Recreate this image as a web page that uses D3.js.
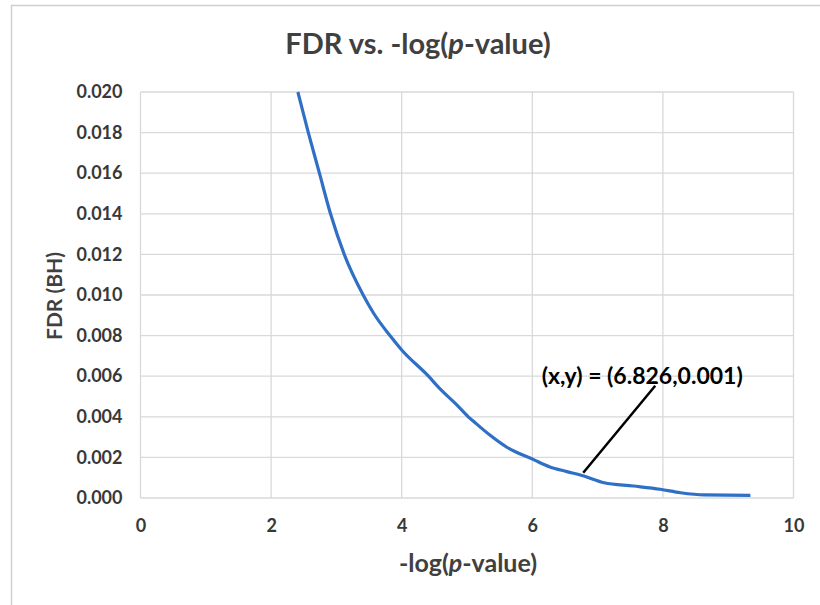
<!DOCTYPE html>
<meta charset="utf-8">
<style>
  body { margin: 0; background: #fff; }
  text { font-family: Lato, "Open Sans", sans-serif; }
</style>
<body>
<script src="https://d3js.org/d3.v7.min.js"></script>
<script>

// data
var xTicks = [0, 2, 4, 6, 8, 10];
var yTicks = [0, 0.002, 0.004, 0.006, 0.008, 0.010, 0.012, 0.014, 0.016, 0.018, 0.020];
var logP = [2.41, 2.57, 2.74, 2.91, 3.12, 3.41, 3.57, 3.82, 4.0, 4.41, 4.58, 4.84, 5.02, 5.12, 5.35, 5.61, 6.02, 6.27, 6.53, 6.79, 7.10, 7.55, 7.96, 8.27, 8.63, 9.34];
var fdr  = [0.020, 0.018, 0.016, 0.014, 0.012, 0.010, 0.0091, 0.008, 0.00729, 0.006, 0.0054, 0.0046, 0.0040, 0.00372, 0.0031, 0.0025, 0.00189, 0.00153, 0.0013, 0.00108, 0.00075, 0.00059, 0.00043, 0.00026, 0.00015, 0.00013];
var annotPoint = [6.826, 0.001];
var annotText = "(x,y) = (6.826,0.001)";

var W = 820, H = 605;
var margin = {top: 92, right: 26.5, bottom: 107, left: 140.5};
var width = W - margin.left - margin.right,
    height = H - margin.top - margin.bottom;

var svg = d3.select("body").append("svg")
  .attr("width", W)
  .attr("height", H);

// chart frame
svg.append("rect")
  .attr("x", 11.5).attr("y", 5.5)
  .attr("width", 830).attr("height", 620)
  .attr("fill", "none")
  .attr("stroke", "#d0d0d0")
  .attr("stroke-width", 1.5);

var g = svg.append("g")
  .attr("transform", "translate(" + margin.left + "," + margin.top + ")");

var x = d3.scaleLinear().domain([0, 10]).range([0, width]);
var y = d3.scaleLinear().domain([0, 0.02]).range([height, 0]);

// grid
g.selectAll(".hgrid").data(yTicks).enter().append("line")
  .attr("x1", 0).attr("x2", width)
  .attr("y1", function(d) { return y(d); })
  .attr("y2", function(d) { return y(d); })
  .attr("stroke", "#d9d9d9").attr("stroke-width", 1.3);
g.selectAll(".vgrid").data(xTicks).enter().append("line")
  .attr("y1", 0).attr("y2", height)
  .attr("x1", function(d) { return x(d); })
  .attr("x2", function(d) { return x(d); })
  .attr("stroke", "#d9d9d9").attr("stroke-width", 1.3);

// axes (labels only)
var yAxis = g.append("g")
  .call(d3.axisLeft(y).tickValues(yTicks).tickFormat(d3.format(".3f")).tickSize(0).tickPadding(18));
var xAxis = g.append("g")
  .attr("transform", "translate(0," + height + ")")
  .call(d3.axisBottom(x).tickValues(xTicks).tickSize(0).tickPadding(21));
[yAxis, xAxis].forEach(function(a) {
  a.select(".domain").remove();
  a.selectAll("text")
    .style("font-family", "Lato, sans-serif")
    .style("font-size", "18px")
    .style("font-weight", "bold")
    .attr("fill", "#383838");
});

// curve
var pts = logP.map(function(v, i) { return [v, fdr[i]]; });
g.append("path")
  .datum(pts)
  .attr("fill", "none")
  .attr("stroke", "#2f6fc6")
  .attr("stroke-width", 3.2)
  .attr("d", d3.line()
    .x(function(d) { return x(d[0]); })
    .y(function(d) { return y(d[1]); })
    .curve(d3.curveMonotoneX));

// annotation
var ax = x(annotPoint[0]), ay = y(annotPoint[1]);
g.append("line")
  .attr("x1", ax - 3).attr("y1", ay - 5)
  .attr("x2", ax + 69).attr("y2", ay - 92)
  .attr("stroke", "#000").attr("stroke-width", 2.5);
g.append("text")
  .attr("x", ax + 56).attr("y", ay - 94)
  .attr("text-anchor", "middle")
  .style("font-size", "23px").style("font-weight", "bold")
  .attr("fill", "#000")
  .text(annotText);

// titles
var title = svg.append("text")
  .attr("x", 418).attr("y", 54)
  .attr("text-anchor", "middle")
  .style("font-size", "29px").style("font-weight", "bold")
  .attr("fill", "#404040");
title.append("tspan").text("FDR vs. -log(");
title.append("tspan").style("font-style", "italic").text("p");
title.append("tspan").text("-value)");

var xt = svg.append("text")
  .attr("x", 468).attr("y", 572)
  .attr("text-anchor", "middle")
  .style("font-size", "25px").style("font-weight", "bold")
  .attr("fill", "#404040");
xt.append("tspan").text("-log(");
xt.append("tspan").style("font-style", "italic").text("p");
xt.append("tspan").text("-value)");

svg.append("text")
  .attr("transform", "translate(62,296) rotate(-90)")
  .attr("text-anchor", "middle")
  .style("font-size", "21px").style("font-weight", "bold")
  .attr("fill", "#404040")
  .text("FDR (BH)");

</script>
</body>
